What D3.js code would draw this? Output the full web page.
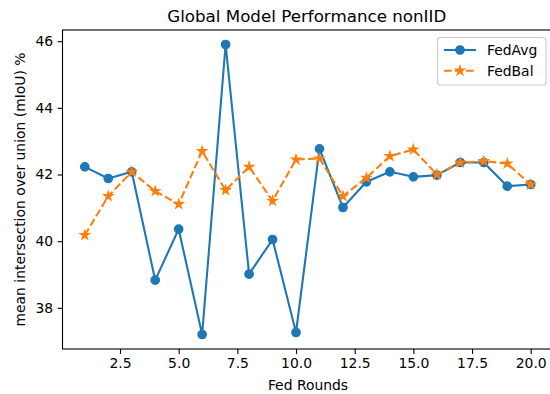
<!DOCTYPE html>
<html>
<head>
<meta charset="utf-8">
<script src="https://cdn.jsdelivr.net/npm/d3@7"></script>
<style>
  html, body { margin: 0; padding: 0; background: #fff; }
  svg { display: block; font-family: "DejaVu Sans", sans-serif; }
</style>
</head>
<body>
<svg id="chart" width="550" height="394"></svg>
<script>
// Federated training rounds
const rounds = [1, 2, 3, 4, 5, 6, 7, 8, 9, 10, 11, 12, 13, 14, 15, 16, 17, 18, 19, 20];

// Global model mIoU (%) per round
const fedAvg = [42.23, 41.88, 42.08, 38.83, 40.36, 37.20, 45.90, 39.01, 40.05, 37.26,
                42.77, 41.01, 41.78, 42.08, 41.93, 41.98, 42.36, 42.36, 41.65, 41.70];
const fedBal = [40.18, 41.35, 42.08, 41.50, 41.11, 42.70, 41.53, 42.23, 41.21, 42.45,
                42.48, 41.35, 41.90, 42.55, 42.75, 42.00, 42.36, 42.40, 42.33, 41.70];

const xTicks = [2.5, 5.0, 7.5, 10.0, 12.5, 15.0, 17.5, 20.0];
const yTicks = [38, 40, 42, 44, 46];

const seriesNames = ["FedAvg", "FedBal"];
const colors = ["#1f77b4", "#ff7f0e"];

const svg = d3.select("#chart");
const plotLeft = 62.5, plotRight = 553, plotTop = 30, plotBottom = 349;

// 5% padding around the data range on both axes
const allY = fedAvg.concat(fedBal);
const xMin = d3.min(rounds), xMax = d3.max(rounds);
const yMin = d3.min(allY), yMax = d3.max(allY);
const xPad = (xMax - xMin) * 0.05, yPad = (yMax - yMin) * 0.05;

const x = d3.scaleLinear().domain([xMin - xPad, xMax + xPad]).range([plotLeft, plotRight]);
const y = d3.scaleLinear().domain([yMin - yPad, yMax + yPad]).range([plotBottom, plotTop]);

// Frame
svg.append("rect")
  .attr("x", plotLeft).attr("y", plotTop)
  .attr("width", plotRight - plotLeft).attr("height", plotBottom - plotTop)
  .attr("fill", "none").attr("stroke", "#000").attr("stroke-width", 1.1);

// Axes
const xAxis = svg.append("g")
  .attr("transform", `translate(0,${plotBottom})`)
  .call(d3.axisBottom(x).tickValues(xTicks).tickFormat(d3.format(".1f")).tickSize(4.9).tickPadding(4.5));
const yAxis = svg.append("g")
  .attr("transform", `translate(${plotLeft},0)`)
  .call(d3.axisLeft(y).tickValues(yTicks).tickFormat(d3.format("d")).tickSize(4.9).tickPadding(4.5));

[xAxis, yAxis].forEach(g => {
  g.select(".domain").remove();
  g.selectAll(".tick line").attr("stroke", "#000").attr("stroke-width", 1.1);
  g.selectAll(".tick text")
    .attr("fill", "#000")
    .style("font-family", "'DejaVu Sans', sans-serif")
    .style("font-size", "13.9px");
});

// Titles
svg.append("text")
  .attr("x", (plotLeft + plotRight) / 2 - 1).attr("y", 21.5)
  .attr("text-anchor", "middle")
  .style("font-size", "16.7px")
  .text("Global Model Performance nonIID");

svg.append("text")
  .attr("x", 308).attr("y", 389.5)
  .attr("text-anchor", "middle")
  .style("font-size", "13.9px")
  .text("Fed Rounds");

svg.append("text")
  .attr("transform", `translate(25,${(plotTop + plotBottom) / 2}) rotate(-90)`)
  .attr("text-anchor", "middle")
  .style("font-size", "13.9px")
  .text("mean intersection over union (mIoU) %");

// Series
const line = d3.line().x(d => x(d[0])).y(d => y(d[1]));
const dataAvg = rounds.map((r, i) => [r, fedAvg[i]]);
const dataBal = rounds.map((r, i) => [r, fedBal[i]]);

const plot = svg.append("g");

plot.append("path")
  .datum(dataAvg)
  .attr("d", line)
  .attr("fill", "none")
  .attr("stroke", colors[0])
  .attr("stroke-width", 2.1)
  .attr("stroke-linejoin", "round");

plot.selectAll("circle.avg")
  .data(dataAvg)
  .join("circle")
  .attr("class", "avg")
  .attr("cx", d => x(d[0]))
  .attr("cy", d => y(d[1]))
  .attr("r", 4.2)
  .attr("fill", colors[0])
  .attr("stroke", colors[0])
  .attr("stroke-width", 1.3);

plot.append("path")
  .datum(dataBal)
  .attr("d", line)
  .attr("fill", "none")
  .attr("stroke", colors[1])
  .attr("stroke-width", 2.1)
  .attr("stroke-dasharray", "7.7,3.3");

const star = d3.symbol().type(d3.symbolStar).size(24);
plot.selectAll("path.bal")
  .data(dataBal)
  .join("path")
  .attr("class", "bal")
  .attr("d", star)
  .attr("transform", d => `translate(${x(d[0])},${y(d[1])})`)
  .attr("fill", colors[1])
  .attr("stroke", colors[1])
  .attr("stroke-width", 1.3)
  .attr("stroke-linejoin", "miter");

// Legend
const legend = svg.append("g");
legend.append("rect")
  .attr("x", 437.5).attr("y", 37.5)
  .attr("width", 108.5).attr("height", 47.5)
  .attr("rx", 2.8)
  .attr("fill", "#fff").attr("fill-opacity", 0.8)
  .attr("stroke", "#ccc").attr("stroke-width", 1.1);

const legendRows = [50, 70.7];
seriesNames.forEach((name, i) => {
  const ly = legendRows[i];
  legend.append("line")
    .attr("x1", 444).attr("x2", 476)
    .attr("y1", ly).attr("y2", ly)
    .attr("stroke", colors[i]).attr("stroke-width", 2.1)
    .attr("stroke-dasharray", i === 1 ? "7.7,3.3" : null);
  if (i === 0) {
    legend.append("circle")
      .attr("cx", 460).attr("cy", ly).attr("r", 4.2)
      .attr("fill", colors[0]).attr("stroke", colors[0]).attr("stroke-width", 1.3);
  } else {
    legend.append("path")
      .attr("d", star)
      .attr("transform", `translate(460,${ly})`)
      .attr("fill", colors[1]).attr("stroke", colors[1]).attr("stroke-width", 1.3);
  }
  legend.append("text")
    .attr("x", 487).attr("y", ly + 5)
    .style("font-size", "13.9px")
    .text(name);
});
</script>
</body>
</html>
